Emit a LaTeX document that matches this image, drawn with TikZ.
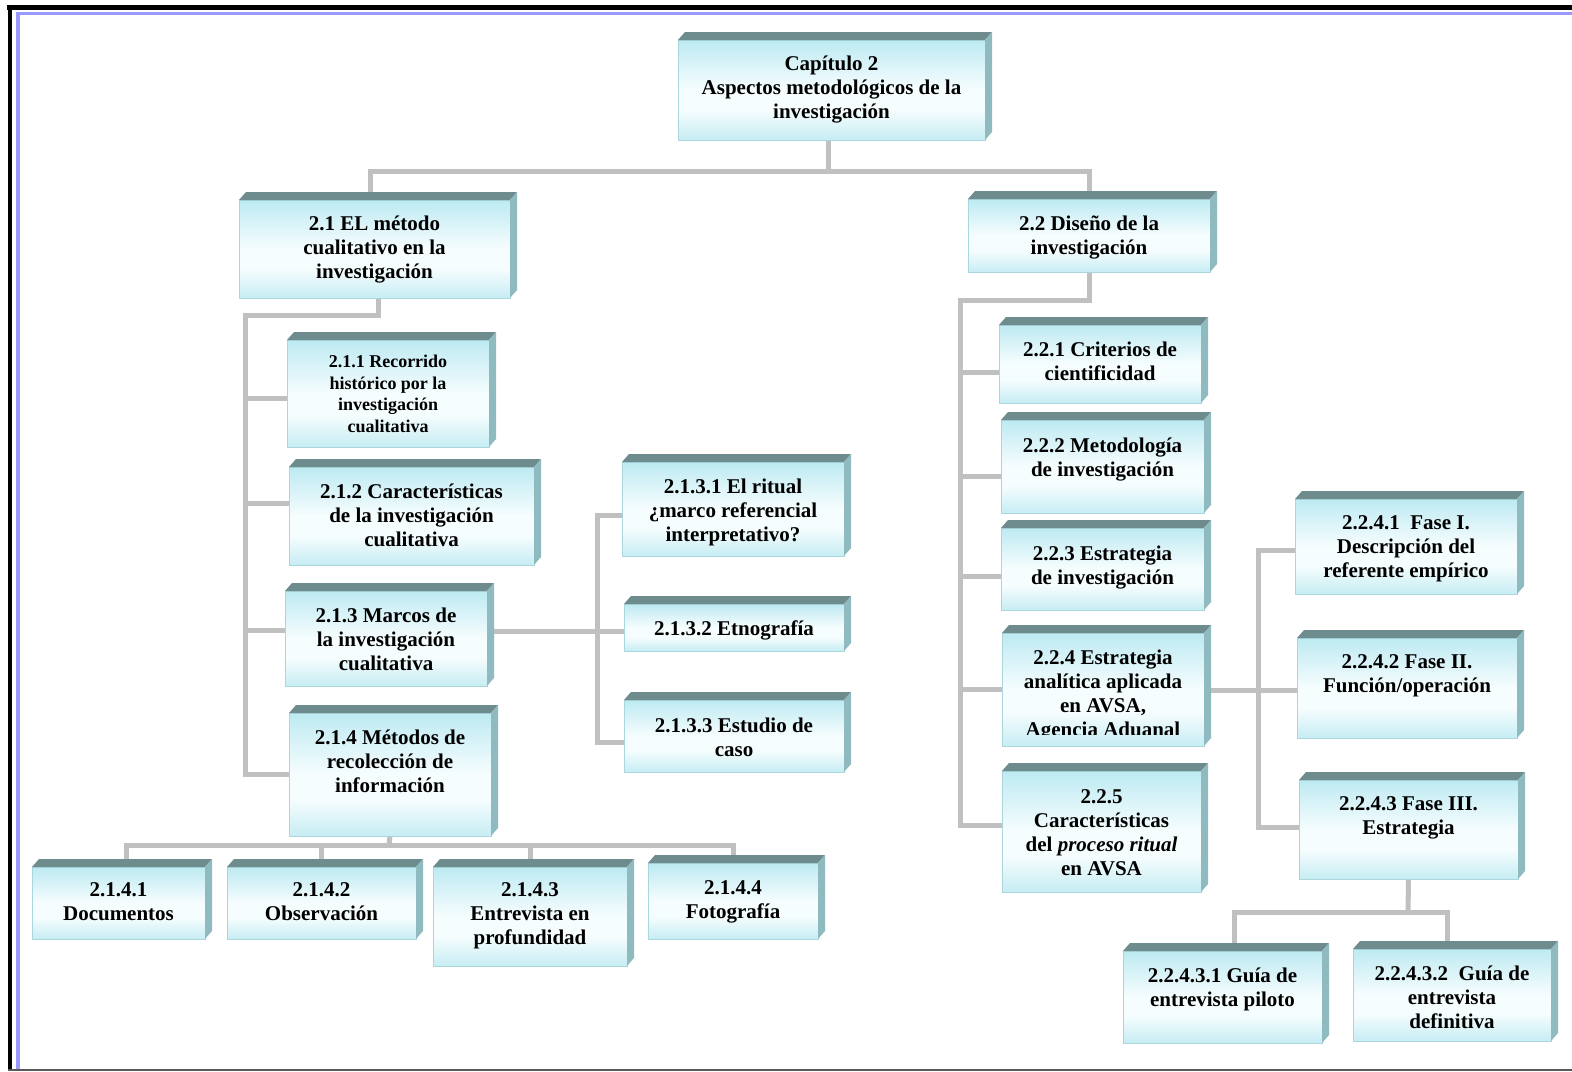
\documentclass[tikz,border=0pt]{standalone}
\usepackage{fontspec}
\setmainfont{Liberation Serif}
\usetikzlibrary{backgrounds,calc}

\definecolor{faceT}{RGB}{189,234,242}
\definecolor{faceW}{RGB}{246,253,254}
\definecolor{faceB}{RGB}{198,237,243}
\definecolor{faceline}{RGB}{170,214,222}
\definecolor{bevtopc}{RGB}{110,140,142}
\definecolor{bevsidec}{RGB}{143,186,192}
\definecolor{connc}{RGB}{192,192,192}
\definecolor{frameblue}{RGB}{153,153,255}
\definecolor{framegray}{RGB}{90,90,90}

\pgfdeclareverticalshading{boxface}{100bp}{color(0bp)=(faceB); color(25bp)=(faceB); color(40bp)=(faceW); color(50bp)=(faceW); color(75bp)=(faceT); color(100bp)=(faceT)}

\tikzset{
  face/.style={rectangle, draw=faceline, line width=0.5pt, shading=boxface, inner sep=0pt, outer sep=0pt},
  bevtop/.style={fill=bevtopc},
  bevside/.style={fill=bevsidec},
  lbl/.style={font=\fontsize{10.5}{12}\selectfont\bfseries, align=center, inner sep=0pt},
  lblsmall/.style={font=\fontsize{9}{10.8}\selectfont\bfseries, align=center, inner sep=0pt},
  conn/.style={draw=connc, line width=2.5pt}
}

% inner bottom margin below which box text is cut off
\newcommand\textgap{4pt}

% box: style, name, x1, y1, x2, y2 (face), y of first text line, text
\newcommand\tbox[8]{%
  \node[face, minimum width={(#5-#3)*0.5pt}, minimum height={(#6-#4)*0.5pt}] (#2) at ({(#3+#5)/2},{(#4+#6)/2}) {};
  \fill[bevtop] (#2.north west) -- ++(7,-8) -- ([shift={(7,-8)}]#2.north east) -- (#2.north east) -- cycle;
  \fill[bevside] (#2.north east) -- ++(7,-8) -- ([shift={(7,-8)}]#2.south east) -- (#2.south east) -- cycle;
  \begin{scope}
    \clip (#2.north west) rectangle ([yshift=\textgap]#2.south east);
    \node[#1, anchor=north] (#2-t) at ({(#3+#5)/2},{#7-10}) {\strut #8};
  \end{scope}}

\begin{document}
\begin{tikzpicture}[x=0.5pt, y=-0.5pt]
\useasboundingbox (0,0) rectangle (1572,1071);

% page and frame, behind everything
\begin{scope}[on background layer]
  \fill[white] (0,0) rectangle (1572,1071);
  \fill[black] (7,5) rectangle (1572,10);
  \fill[black] (8,5) rectangle (12,1071);
  \fill[frameblue] (16,12) rectangle (20,1071);
  \fill[frameblue] (16,12) rectangle (1572,15);
  \fill[framegray] (8,1069) rectangle (1572,1071);
\end{scope}

% boxes
\tbox{lbl}{top}{678}{40}{985}{140}{63}{Capítulo 2\\Aspectos metodológicos de la\\investigación}
\tbox{lbl}{s21}{239}{200}{510}{298}{223}{2.1 EL método\\cualitativo en la\\investigación}
\tbox{lbl}{s22}{968}{199}{1210}{272}{223}{2.2 Diseño de la\\investigación}

\tbox{lblsmall}{s211}{287}{340}{489}{447}{362}{2.1.1 Recorrido\\histórico por la\\investigación\\cualitativa}
\tbox{lbl}{s212}{289}{467}{534}{565}{491}{2.1.2 Características\\de la investigación\\cualitativa}
\tbox{lbl}{s213}{285}{591}{487}{686}{615}{2.1.3 Marcos de\\la investigación\\cualitativa}
\tbox{lbl}{s214}{289}{713}{491}{836}{737}{2.1.4 Métodos de\\recolección de\\información}

\tbox{lbl}{s2131}{622}{462}{844}{556}{486}{2.1.3.1 El ritual\\¿marco referencial\\interpretativo?}
\tbox{lbl}{s2132}{624}{604}{844}{651}{628}{2.1.3.2 Etnografía}
\tbox{lbl}{s2133}{624}{700}{844}{772}{725}{2.1.3.3 Estudio de\\caso}

\tbox{lbl}{s2141}{32}{867}{205}{939}{889}{2.1.4.1\\Documentos}
\tbox{lbl}{s2142}{227}{867}{416}{939}{889}{2.1.4.2\\Observación}
\tbox{lbl}{s2143}{433}{867}{627}{966}{889}{2.1.4.3\\Entrevista en\\profundidad}
\tbox{lbl}{s2144}{648}{863}{818}{939}{887}{2.1.4.4\\Fotografía}

\tbox{lbl}{s221}{999}{325}{1201}{403}{349}{2.2.1 Criterios de\\cientificidad}
\tbox{lbl}{s222}{1001}{420}{1204}{513}{445}{2.2.2 Metodología\\de investigación}
\tbox{lbl}{s223}{1001}{528}{1204}{610}{553}{2.2.3 Estrategia\\de investigación}
{\renewcommand\textgap{6pt}%
\tbox{lbl}{s224}{1002}{633}{1204}{746}{657}{2.2.4 Estrategia\\analítica aplicada\\en AVSA,\\Agencia Aduanal}}
\tbox{lbl}{s225}{1002}{771}{1201}{892}{796}{2.2.5\\Características\\del \textit{proceso ritual}\\en AVSA}

\tbox{lbl}{s2241}{1295}{499}{1517}{594}{522}{2.2.4.1~~Fase I.\\Descripción del\\referente empírico}
\tbox{lbl}{s2242}{1297}{638}{1517}{738}{661}{2.2.4.2 Fase II.\\Función/operación}
\tbox{lbl}{s2243}{1299}{780}{1518}{879}{803}{2.2.4.3 Fase III.\\Estrategia}

\tbox{lbl}{s22431}{1123}{951}{1322}{1043}{975}{2.2.4.3.1 Guía de\\entrevista piloto}
\tbox{lbl}{s22432}{1353}{949}{1551}{1041}{973}{2.2.4.3.2~~Guía de\\entrevista\\definitiva}

% connectors, above the page but under the boxes
\begin{scope}[on background layer]
  % chapter to its two sections
  \draw[conn] ([xshift=-1.5pt]top.south) -- ++(0,31) coordinate (j0);
  \draw[conn] ([xshift=-2pt]s21.north) |- (j0) -| (s22.north);

  % section 2.1 spine
  \coordinate (k1) at (245,315);
  \draw[conn] ([xshift=2pt]s21.south) |- (k1) |- (s214.west);
  \draw[conn] ([yshift=-2.25pt]s211.west) -- ([yshift=-2.25pt]s211.west -| k1);
  \draw[conn] ([yshift=6.5pt]s212.west) -- ([yshift=6.5pt]s212.west -| k1);
  \draw[conn] ([yshift=4pt]s213.west) -- ([yshift=4pt]s213.west -| k1);

  % 2.1.3 sub-items
  \coordinate (k3) at (597,631);
  \draw[conn] (s213.east |- k3) -- (s2132.west |- k3);
  \draw[conn] ([yshift=-3pt]s2131.west) -| (k3) |- ([yshift=-3pt]s2133.west);

  % 2.1.4 sub-items
  \coordinate (k5) at (389,845);
  \draw[conn] (s214.south) -- (k5);
  \draw[conn] ([xshift=3.75pt]s2141.north) |- (k5) -| (s2144.north);
  \draw[conn] (s2142.north) -- (s2142.north |- k5);
  \draw[conn] (s2143.north) -- (s2143.north |- k5);

  % section 2.2 spine
  \coordinate (k2) at (960,300);
  \draw[conn] (s22.south) |- (k2) |- ([yshift=3.25pt]s225.west);
  \draw[conn] ([yshift=-4pt]s221.west) -- ([yshift=-4pt]s221.west -| k2);
  \draw[conn] ([yshift=-4.75pt]s222.west) -- ([yshift=-4.75pt]s222.west -| k2);
  \draw[conn] ([yshift=-3.5pt]s223.west) -- ([yshift=-3.5pt]s223.west -| k2);
  \draw[conn] (s224.west) -- (s224.west -| k2);

  % 2.2.4 phases
  \coordinate (k4) at (1258,690);
  \draw[conn] (s224.east |- k4) -- (s2242.west |- k4);
  \draw[conn] ([yshift=-1.75pt]s2241.west) -| (k4) |- ([yshift=1.25pt]s2243.west);

  % 2.2.4.3 guides
  \coordinate (k6) at (1408,912);
  \draw[conn] (s2243.south) -- (k6);
  \draw[conn] ([xshift=6pt]s22431.north) |- (k6) -| ([xshift=-2.5pt]s22432.north);
\end{scope}
\end{tikzpicture}
\end{document}
